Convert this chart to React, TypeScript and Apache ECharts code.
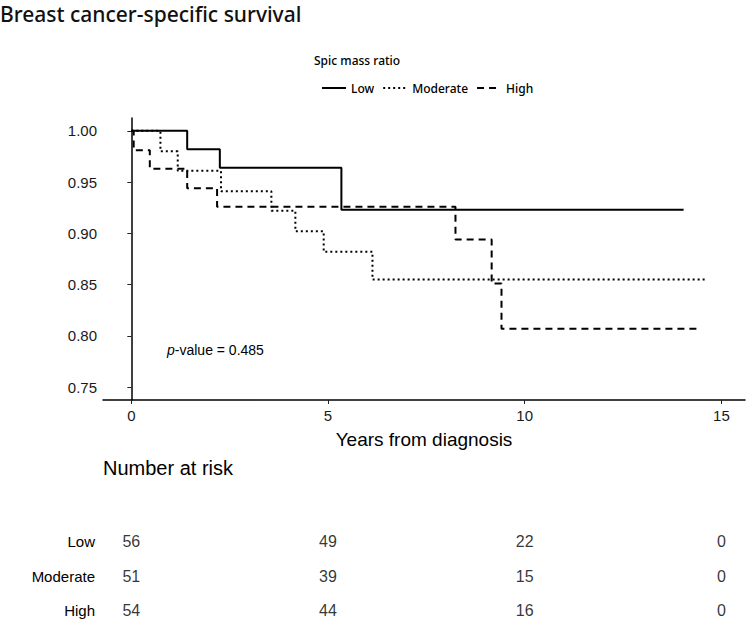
import React, { useEffect, useRef } from 'react';
import * as echarts from 'echarts';

const groupNames = ['Low', 'Moderate', 'High'];
const lowCurve: [number, number][] = [[0, 1], [1.42, 0.982], [2.25, 0.964], [5.34, 0.923], [14.04, 0.923]];
const moderateCurve: [number, number][] = [[0, 1], [0.74, 0.98], [1.18, 0.961], [2.28, 0.941], [3.56, 0.922], [4.17, 0.902], [4.89, 0.882], [6.13, 0.855], [14.65, 0.855]];
const highCurve: [number, number][] = [[0, 1], [0.06, 0.981], [0.47, 0.963], [1.42, 0.944], [2.18, 0.926], [8.24, 0.894], [9.16, 0.851], [9.41, 0.807], [14.4, 0.807]];
const riskTimes = [0, 5, 10, 15];
const riskLow = [56, 49, 22, 0];
const riskModerate = [51, 39, 15, 0];
const riskHigh = [54, 44, 16, 0];
const xTicks = [0, 5, 10, 15];
const yTicks = [0.75, 0.8, 0.85, 0.9, 0.95, 1.0];
const riskRows = ['High', 'Moderate', 'Low'];

const NARROW = "'Liberation Sans Narrow', 'Liberation Sans', Arial, sans-serif";

export default function App() {
  const ref = useRef<HTMLDivElement>(null);
  useEffect(() => {
    if (!ref.current) return;
    const chart = echarts.init(ref.current, null, { renderer: 'svg' });
    const styles: Record<string, any> = {
      Low: { type: 'solid' },
      Moderate: { type: [2, 3] },
      High: { type: [7, 5] },
    };
    const curves: Record<string, [number, number][]> = { Low: lowCurve, Moderate: moderateCurve, High: highCurve };
    const risks: Record<string, number[]> = { Low: riskLow, Moderate: riskModerate, High: riskHigh };
    const xMin = -0.72, xMax = 15.6;
    const lineSeries = groupNames.map((g) => ({
      name: g,
      type: 'line',
      step: 'end',
      symbol: 'none',
      data: curves[g],
      xAxisIndex: 0,
      yAxisIndex: 0,
      lineStyle: { color: '#000', width: 2, ...styles[g] },
      itemStyle: { color: '#000' },
    }));
    const riskData: any[] = [];
    groupNames.forEach((g) => {
      riskTimes.forEach((t, i) => riskData.push([t, g, risks[g][i]]));
    });
    chart.setOption({
      animation: false,
      grid: [
        { left: 103, right: 5, top: 118, height: 282 },
        { left: 103, right: 5, top: 524, height: 107 },
      ],
      xAxis: [
        {
          type: 'value', gridIndex: 0, min: xMin, max: xMax,
          axisLine: { show: true, lineStyle: { color: '#000', width: 1.5 } },
          axisTick: { show: true, length: 4, customValues: xTicks, lineStyle: { color: '#222', width: 1 } },
          axisLabel: { customValues: xTicks, color: '#1a1a1a', fontSize: 15, fontFamily: NARROW, margin: 8 },
          splitLine: { show: false },
          name: 'Years from diagnosis', nameLocation: 'middle', nameGap: 30,
          nameTextStyle: { color: '#000', fontSize: 19, fontFamily: NARROW },
        },
        {
          type: 'value', gridIndex: 1, min: xMin, max: xMax, show: false,
        },
      ],
      yAxis: [
        {
          type: 'value', gridIndex: 0, min: 0.7375, max: 1.0125,
          axisLine: { show: true, lineStyle: { color: '#000', width: 1.5 } },
          axisTick: { show: true, length: 4, customValues: yTicks, lineStyle: { color: '#222', width: 1 } },
          axisLabel: { customValues: yTicks, color: '#1a1a1a', fontSize: 15, fontFamily: NARROW, margin: 6, formatter: (v: number) => v.toFixed(2) },
          splitLine: { show: false },
        },
        {
          type: 'category', gridIndex: 1, data: riskRows,
          axisLine: { show: false }, axisTick: { show: false }, splitLine: { show: false },
          axisLabel: { color: '#000', fontSize: 15, fontFamily: NARROW, margin: 8 },
        },
      ],
      legend: {
        data: groupNames,
        left: 316, top: 77,
        itemWidth: 24, itemHeight: 14, itemGap: 8,
        itemStyle: { opacity: 0 },
        textStyle: { color: '#000', fontSize: 12, fontFamily: "'Noto Sans', sans-serif", fontWeight: 500 },
      },
      series: [
        ...lineSeries,
        {
          type: 'scatter', xAxisIndex: 1, yAxisIndex: 1, symbolSize: 0,
          data: riskData,
          label: {
            show: true, position: 'inside', color: '#000', fontSize: 16, fontFamily: NARROW,
            formatter: (p: any) => String(p.value[2]),
          },
          silent: true,
        },
      ],
      graphic: [
        {
          type: 'text', left: 0, top: 3,
          style: { text: 'Breast cancer-specific survival', fontSize: 21, fontWeight: 500, fontFamily: "'Noto Sans', sans-serif", fill: '#111' },
        },
        {
          type: 'text', left: 314, top: 54,
          style: { text: 'Spic mass ratio', fontSize: 12, fontWeight: 500, fontFamily: "'Noto Sans', sans-serif", fill: '#000' },
        },
        {
          type: 'text', left: 167, top: 343,
          style: {
            text: '{i|p}-value = 0.485',
            fontSize: 14, fontFamily: NARROW, fill: '#000',
            rich: { i: { fontStyle: 'italic', fontSize: 14, fontFamily: NARROW, fill: '#000' } },
          },
        },
        {
          type: 'text', left: 103, top: 458,
          style: { text: 'Number at risk', fontSize: 20, fontFamily: NARROW, fill: '#000' },
        },
      ],
    });
    return () => chart.dispose();
  }, []);
  return <div ref={ref} style={{ position: 'fixed', left: 0, top: 0, width: 750, height: 628, background: '#fff' }} />;
}
